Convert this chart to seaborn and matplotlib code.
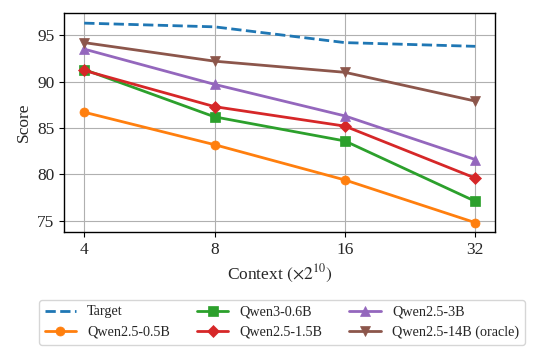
import matplotlib
matplotlib.use("Agg")
import matplotlib.pyplot as plt
import seaborn as sns
import pandas as pd

context = [4, 8, 16, 32]
target = [96.3, 95.9, 94.2, 93.8]
q25_05 = [86.7, 83.2, 79.4, 74.8]
q3_06 = [91.3, 86.2, 83.6, 77.1]
q25_15 = [91.2, 87.3, 85.2, 79.6]
q25_3 = [93.5, 89.7, 86.3, 81.6]
q25_14 = [94.2, 92.2, 91.0, 87.9]

names = ["Target", "Qwen2.5-0.5B", "Qwen3-0.6B", "Qwen2.5-1.5B", "Qwen2.5-3B", "Qwen2.5-14B (oracle)"]
series = [target, q25_05, q3_06, q25_15, q25_3, q25_14]

sns.set_theme(style="ticks")
plt.rcParams["font.family"] = ["Liberation Serif", "DejaVu Serif"]
plt.rcParams["mathtext.fontset"] = "stix"

colors = ["#1f77b4", "#ff7f0e", "#2ca02c", "#d62728", "#9467bd", "#8c564b"]
markers = [None, "o", "s", "D", "^", "v"]

fig = plt.figure(figsize=(5.39, 3.59), dpi=100)
ax = fig.add_axes([0.119, 0.354, 0.800, 0.610])

for name, vals, c, m in zip(names, series, colors, markers):
    df = pd.DataFrame({"x": context, "y": vals})
    if m is None:
        sns.lineplot(data=df, x="x", y="y", ax=ax, color=c, linestyle=(0, (3.7, 1.6)),
                     linewidth=2, label=name)
    else:
        sns.lineplot(data=df, x="x", y="y", ax=ax, color=c, marker=m, markersize=6.5,
                     markeredgewidth=0.5, markeredgecolor=c, linewidth=2, label=name)

ax.set_xscale("log", base=2)
ax.set_xticks(context)
ax.set_xticklabels([str(c) for c in context])
ax.minorticks_off()
ax.set_xlim(4 / 2 ** 0.154, 32 * 2 ** 0.154)
ax.set_ylim(73.8, 97.4)
ax.set_yticks([75, 80, 85, 90, 95])
ax.grid(True, color="#b0b0b0", linewidth=0.8)
ax.tick_params(labelsize=12.5, length=3.5, width=0.8, color="black")
for s in ax.spines.values():
    s.set_color("black")
    s.set_linewidth(1.0)
ax.set_xlabel(r"Context $\left(\times 2^{10}\right)$", fontsize=12.5)
ax.set_ylabel("Score", fontsize=12.5)

ax.legend(loc="upper center", bbox_to_anchor=(0.505, -0.31), ncol=3, fontsize=10.2,
          frameon=True, fancybox=True, edgecolor="#cccccc", handlelength=2.2,
          columnspacing=1.9, borderaxespad=0, handletextpad=0.8)

fig.savefig("out.png", dpi=100)
